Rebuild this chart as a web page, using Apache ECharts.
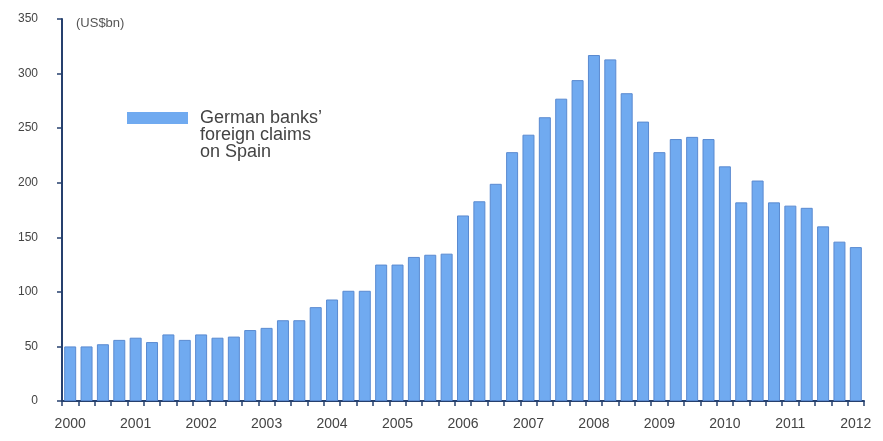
<!DOCTYPE html>
<html>
<head>
<meta charset="utf-8">
<script src="https://cdn.jsdelivr.net/npm/echarts@6/dist/echarts.min.js"></script>
<style>html,body{margin:0;padding:0;background:#fff}#c{width:883px;height:441px}</style>
</head>
<body>
<div id="c"></div>
<script>
// Quarterly categories 2000Q1 .. 2012Q1
const years = ['2000','2001','2002','2003','2004','2005','2006','2007','2008','2009','2010','2011','2012'];
const tickLabels = years;
const quarters = [];
years.forEach(function (y, i) {
  const n = (i === years.length - 1) ? 1 : 4;
  for (let q = 1; q <= n; q++) quarters.push(y + 'Q' + q);
});
const legendLines = ['German banks’', 'foreign claims', 'on Spain'];
const seriesName = legendLines.join(' ');
const claims = [
  50, 50, 52, 56, 58, 54, 61, 56, 61, 58, 59, 65, 67, 74, 74, 86,
  93, 101, 101, 125, 125, 132, 134, 135, 170, 183, 199, 228, 244, 260, 277, 294,
  317, 313, 282, 256, 228, 240, 242, 240, 215, 182, 202, 182, 179, 177, 160, 146,
  141
];

const chart = echarts.init(document.getElementById('c'));
chart.setOption({
  animation: false,
  backgroundColor: '#ffffff',
  grid: { left: 62, right: 19, top: 19, bottom: 40, containLabel: false },
  title: {
    text: '(US$bn)', left: 71, top: 12,
    textStyle: { fontFamily: 'Liberation Sans', fontSize: 13, fontWeight: 'normal', color: '#555' }
  },
  legend: {
    data: [seriesName],
    left: 127, top: 75, padding: 0,
    itemWidth: 61, itemHeight: 12,
    icon: 'rect',
    itemStyle: { borderWidth: 0 },
    formatter: function () {
      return '{e|}\n{e|}\n' + legendLines.map(function (l) { return '{a|' + l + '}'; }).join('\n');
    },
    textStyle: {
      rich: {
        a: { fontFamily: 'Liberation Sans', fontSize: 18, color: '#444', lineHeight: 17, padding: [0, 0, 0, 7] },
        e: { fontSize: 18, lineHeight: 17 }
      }
    }
  },
  xAxis: {
    type: 'category',
    data: quarters,
    axisLine: { lineStyle: { color: '#26406e', width: 2 } },
    axisTick: { show: true, interval: 0, length: 5, lineStyle: { color: '#26406e', width: 1.5 } },
    axisLabel: {
      interval: 3, margin: 16,
      fontFamily: 'Liberation Sans', fontSize: 14, color: '#444',
      formatter: function (v, i) { return tickLabels[Math.floor(i / 4)]; }
    },
    splitLine: { show: false }
  },
  yAxis: {
    type: 'value', min: 0, max: 350, interval: 50,
    axisLine: { show: true, lineStyle: { color: '#26406e', width: 2 } },
    axisTick: { show: true, length: 5, lineStyle: { color: '#26406e', width: 1.5 } },
    axisLabel: { margin: 24, fontFamily: 'Liberation Sans', fontSize: 12, color: '#444' },
    splitLine: { show: false }
  },
  series: [{
    name: seriesName,
    type: 'bar',
    data: claims,
    barWidth: 12,
    itemStyle: { color: '#70aaf0', borderColor: '#5a8ad0', borderWidth: 1 }
  }]
});
</script>
</body>
</html>
